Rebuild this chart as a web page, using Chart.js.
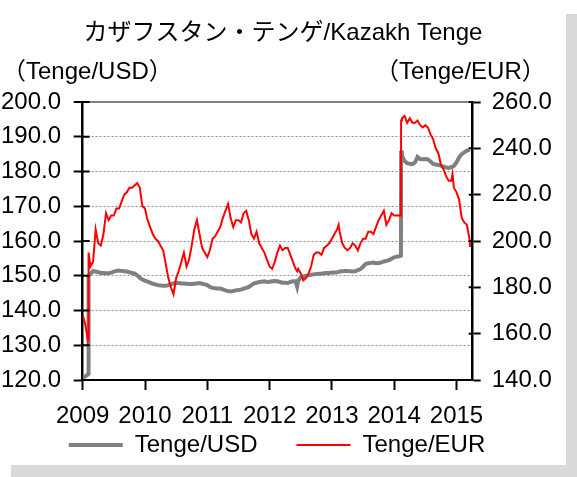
<!DOCTYPE html>
<html>
<head>
<meta charset="utf-8">
<script src="https://cdn.jsdelivr.net/npm/chart.js@4.4.1/dist/chart.umd.min.js"></script>
<style>
  body { margin: 0; background: #fff; }
  #box { position: absolute; left: 0; top: 0; width: 566px; height: 465px; background: #fff; box-shadow: 11px 14px 0 #d9d9d9; }
</style>
</head>
<body>
<div id="box"><canvas id="kztChart" width="566" height="465"></canvas></div>
<script>
var chartTitle = "カザフスタン・テンゲ/Kazakh Tenge";
var unitLeft = "（Tenge/USD）";
var unitRight = "（Tenge/EUR）";
var seriesNames = ["Tenge/USD", "Tenge/EUR"];

// semi-monthly readings (plus the days around the two devaluations)
var dates = [
  "2009-01-01","2009-01-16","2009-02-01","2009-02-04","2009-02-05","2009-02-16","2009-03-01","2009-03-16",
  "2009-04-01","2009-04-16","2009-05-01","2009-05-16","2009-06-01","2009-06-16","2009-07-01","2009-07-16",
  "2009-08-01","2009-08-16","2009-09-01","2009-09-16","2009-10-01","2009-10-16","2009-11-01","2009-11-16",
  "2009-12-01","2009-12-16","2010-01-01","2010-01-16","2010-02-01","2010-02-16","2010-03-01","2010-03-16",
  "2010-04-01","2010-04-16","2010-05-01","2010-05-16","2010-06-01","2010-06-16","2010-07-01","2010-07-16",
  "2010-08-01","2010-08-16","2010-09-01","2010-09-16","2010-10-01","2010-10-16","2010-11-01","2010-11-16",
  "2010-12-01","2010-12-16","2011-01-01","2011-01-16","2011-02-01","2011-02-16","2011-03-01","2011-03-16",
  "2011-04-01","2011-04-16","2011-05-01","2011-05-16","2011-06-01","2011-06-16","2011-07-01","2011-07-16",
  "2011-08-01","2011-08-16","2011-09-01","2011-09-16","2011-10-01","2011-10-16","2011-11-01","2011-11-16",
  "2011-12-01","2011-12-16","2012-01-01","2012-01-16","2012-02-01","2012-02-16","2012-03-01","2012-03-16",
  "2012-04-01","2012-04-16","2012-05-01","2012-05-16","2012-06-01","2012-06-10","2012-06-16","2012-07-01",
  "2012-07-16","2012-08-01","2012-08-16","2012-09-01","2012-09-16","2012-10-01","2012-10-16","2012-11-01",
  "2012-11-16","2012-12-01","2012-12-16","2013-01-01","2013-01-16","2013-02-01","2013-02-10","2013-02-16",
  "2013-03-01","2013-03-16","2013-04-01","2013-04-16","2013-05-01","2013-05-16","2013-06-01","2013-06-16",
  "2013-07-01","2013-07-16","2013-08-01","2013-08-16","2013-09-01","2013-09-16","2013-10-01","2013-10-16",
  "2013-11-01","2013-11-16","2013-12-01","2013-12-16","2014-01-01","2014-01-16","2014-02-01","2014-02-10",
  "2014-02-11","2014-02-16","2014-03-01","2014-03-16","2014-04-01","2014-04-16","2014-05-01","2014-05-16",
  "2014-06-01","2014-06-16","2014-07-01","2014-07-16","2014-08-01","2014-08-16","2014-09-01","2014-09-16",
  "2014-10-01","2014-10-16","2014-11-01","2014-11-16","2014-12-01","2014-12-08","2014-12-16","2015-01-01",
  "2015-01-16","2015-02-01","2015-02-16","2015-03-01","2015-03-16","2015-03-20"
];

var usdValues = [
  120.8,121.0,121.6,122.0,150.0,150.6,151.3,151.2,
  151.0,150.8,150.8,150.7,150.7,150.9,151.2,151.4,
  151.5,151.4,151.3,151.2,151.0,150.8,150.6,150.1,
  149.4,148.9,148.6,148.3,148.0,147.7,147.5,147.3,
  147.2,147.1,147.1,147.3,147.6,147.8,148.0,147.9,
  147.8,147.8,147.7,147.6,147.6,147.7,147.8,147.9,
  147.7,147.5,147.3,146.8,146.5,146.4,146.3,146.3,
  146.1,145.8,145.6,145.5,145.6,145.8,145.9,146.0,
  146.3,146.5,146.8,147.3,147.8,148.0,148.2,148.3,
  148.4,148.2,148.3,148.4,148.5,148.4,148.2,148.0,
  148.0,147.9,148.2,148.4,148.4,146.9,148.6,149.5,
  149.8,150.0,150.1,150.3,150.4,150.5,150.6,150.6,
  150.7,150.8,150.8,150.9,150.9,151.0,151.1,151.2,
  151.3,151.4,151.4,151.3,151.2,151.3,151.6,151.9,
  152.6,153.4,153.6,153.7,153.8,153.6,153.7,153.8,
  154.1,154.3,154.5,154.9,155.3,155.5,155.6,155.8,
  186.0,184.5,183.0,182.4,182.2,182.1,182.6,184.2,
  183.6,183.5,183.6,183.5,182.9,182.2,182.0,181.9,
  181.7,181.4,181.2,181.0,181.3,181.4,181.6,182.6,
  184.0,185.0,185.5,186.0,186.2,186.2
];

var eurValues = [
  168,164,157,158,195,189,191,205,
  199,198,203,212,209,211,211,214,
  214,217,220,221,223,223,224,225,
  223,215,214,209,206,203,201,200,
  198,196,190,184,180,177,184,187,
  191,195,189,192,198,205,209,203,
  197,195,193,196,201,202,204,206,
  210,213,216,210,206,209,209,208,
  212,213,209,203,201,204,199,197,
  195,192,189,188,191,195,198,196,
  197,197,194,191,188,187,188,186,
  183,184,186,189,194,195,195,194,
  197,198,199,201,203,205,207,204,
  199,197,196,197,199,198,196,199,
  201,201,204,204,203,206,209,211,
  213,207,209,212,211,211,211,211,
  252,253,254,251,253,251,251,252,
  250,249,250,249,246,244,240,238,
  233,231,228,226,226,229,223,221,
  218,210,208,207,201,197.5
];

var yearTicks = [2009, 2010, 2011, 2012, 2013, 2014, 2015];

var FONT = "'Liberation Sans', Arial, 'Noto Sans CJK JP', sans-serif";
Chart.defaults.font.family = FONT;
Chart.defaults.font.size = 24;
Chart.defaults.color = "#000";

function toYear(s) {
  var p = s.split("-").map(Number);
  return p[0] + (p[1] - 1) / 12 + (p[2] - 1) / 365;
}
function points(vals) {
  return dates.map(function(d, i) { return { x: toYear(d), y: vals[i] }; });
}

// unit labels, the inner half of the y tick marks, legend nudge
var extras = {
  id: "extras",
  afterLayout: function(chart) {
    chart.legend.left -= 6;
    chart.legend.right -= 6;
    chart.legend.top += 2;
    chart.legend.bottom += 2;
    // let the year labels draw below the thin x axis box
    chart.scales.x.bottom = chart.height;
  },
  afterDraw: function(chart) {
    var ctx = chart.ctx, area = chart.chartArea;
    var sy = chart.scales.y, sy1 = chart.scales.y1;
    ctx.save();
    ctx.font = "24px " + FONT;
    ctx.fillStyle = "#000";
    ctx.textBaseline = "middle";
    ctx.textAlign = "left";
    ctx.fillText(unitLeft, 2, area.top - 30);
    ctx.fillText(unitRight, 375, area.top - 30);
    ctx.strokeStyle = "#000";
    ctx.lineWidth = 2;
    ctx.beginPath();
    sy.ticks.forEach(function(t) {
      var yy = sy.getPixelForValue(t.value);
      ctx.moveTo(area.left, yy);
      ctx.lineTo(area.left + 7, yy);
    });
    sy1.ticks.forEach(function(t) {
      var yy = sy1.getPixelForValue(t.value);
      ctx.moveTo(area.right, yy);
      ctx.lineTo(area.right - 4, yy);
    });
    ctx.stroke();
    ctx.restore();
  }
};

new Chart("kztChart", {
  type: "line",
  data: {
    datasets: [{
      label: seriesNames[0],
      data: points(usdValues),
      yAxisID: "y",
      borderColor: "#808080",
      backgroundColor: "#808080",
      borderWidth: 4,
      pointRadius: 0,
      order: 2
    }, {
      label: seriesNames[1],
      data: points(eurValues),
      yAxisID: "y1",
      borderColor: "#ff0000",
      backgroundColor: "#ff0000",
      borderWidth: 2,
      pointRadius: 0,
      order: 1
    }]
  },
  options: {
    responsive: false,
    animation: false,
    layout: { padding: 0 },
    plugins: {
      tooltip: { enabled: false },
      title: {
        display: true,
        text: chartTitle,
        font: { size: 24, weight: "normal" },
        color: "#000",
        padding: { top: 19, bottom: 54.2 }
      },
      legend: {
        position: "bottom",
        labels: {
          usePointStyle: true,
          pointStyle: "line",
          pointStyleWidth: 54,
          padding: 39,
          font: { size: 24 },
          color: "#000",
          sort: function(a, b) { return a.datasetIndex - b.datasetIndex; }
        }
      }
    },
    scales: {
      x: {
        type: "linear",
        min: 2009,
        max: 2015.26,
        afterFit: function(s) { s.height = 12; },
        afterBuildTicks: function(s) { s.ticks = yearTicks.map(function(v) { return { value: v }; }); },
        ticks: {
          autoSkip: false,
          maxRotation: 0,
          padding: 12,
          callback: function(v) { return String(v); }
        },
        grid: { drawOnChartArea: false, tickLength: 10, tickColor: "#000", tickWidth: 2 },
        border: { color: "#000", width: 2 }
      },
      y: {
        position: "left",
        min: 120,
        max: 200,
        afterFit: function(s) { s.width = 82.7; },
        ticks: {
          stepSize: 10,
          padding: 12.7,
          callback: function(v) { return v.toFixed(1); }
        },
        grid: {
          color: function(c) {
            if (c.tick && c.tick.value === 120) return "rgba(0,0,0,0)";
            return c.tick && c.tick.value === 200 ? "#808080" : "#8c8c8c";
          },
          lineWidth: function(c) { return c.tick && c.tick.value === 200 ? 2 : 1; },
          tickLength: 9,
          tickColor: "#000",
          tickWidth: 2,
          tickBorderDash: []
        },
        border: {
          color: "#000",
          width: 2.5,
          dash: function(c) { return c.tick && c.tick.value === 200 ? [] : [2, 2]; }
        }
      },
      y1: {
        position: "right",
        min: 140,
        max: 260,
        afterFit: function(s) { s.width = 93.3; },
        ticks: {
          stepSize: 20,
          padding: 11,
          callback: function(v) { return v.toFixed(1); }
        },
        grid: { drawOnChartArea: false, tickLength: 8, tickColor: "#000", tickWidth: 2 },
        border: { color: "#000", width: 2.5 }
      }
    }
  },
  plugins: [extras]
});
</script>
</body>
</html>
